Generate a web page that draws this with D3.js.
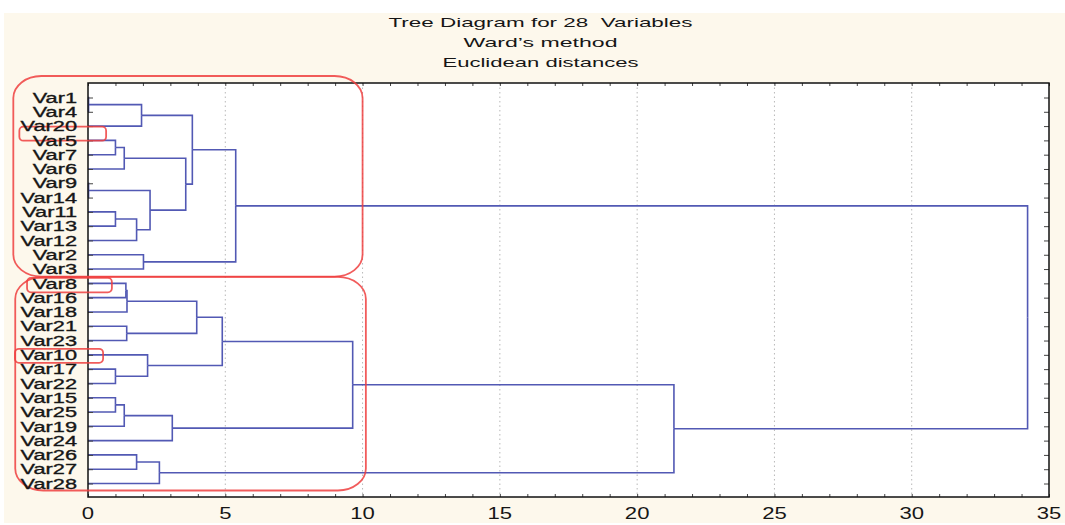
<!DOCTYPE html>
<html>
<head>
<meta charset="utf-8">
<script src="https://cdn.jsdelivr.net/npm/d3@7"></script>
<style>
  body { margin: 0; background: #fff; }
  text { font-family: "Liberation Sans", Arial, sans-serif; fill: #161616; }
</style>
</head>
<body>
<div id="chart"></div>
<script>
// chart text
var titleLines = ["Tree Diagram for 28  Variables", "Ward\u2019s method", "Euclidean distances"];
var xTicks = [0, 5, 10, 15, 20, 25, 30, 35];

// leaf order, top to bottom
var leaves = ["Var1", "Var4", "Var20", "Var5", "Var7", "Var6", "Var9", "Var14", "Var11", "Var13",
  "Var12", "Var2", "Var3", "Var8", "Var16", "Var18", "Var21", "Var23", "Var10", "Var17", "Var22",
  "Var15", "Var25", "Var19", "Var24", "Var26", "Var27", "Var28"];

// linkage steps: [left, right, linkage distance]; m<i> is the i-th step (1-based)
var merges = [
  ["Var1", "Var4", 0.02],
  ["Var9", "Var14", 0.02],
  ["Var5", "Var7", 1.0],
  ["Var11", "Var13", 1.0],
  ["Var15", "Var25", 1.0],
  ["Var17", "Var22", 1.0],
  ["m3", "Var6", 1.32],
  ["m5", "Var19", 1.32],
  ["Var8", "Var16", 1.38],
  ["m9", "Var18", 1.42],
  ["Var21", "Var23", 1.41],
  ["m4", "Var12", 1.77],
  ["Var26", "Var27", 1.77],
  ["m1", "Var20", 1.95],
  ["Var2", "Var3", 2.02],
  ["Var10", "m6", 2.17],
  ["m2", "m12", 2.26],
  ["m13", "Var28", 2.6],
  ["m8", "Var24", 3.07],
  ["m7", "m17", 3.56],
  ["m14", "m20", 3.8],
  ["m10", "m11", 3.96],
  ["m22", "m16", 4.89],
  ["m21", "m15", 5.38],
  ["m23", "m19", 9.64],
  ["m25", "m18", 21.34],
  ["m24", "m26", 34.22]
];

// red hand-drawn marks: leaf span + distance span
var boxFrom = ["Var1", "Var8", "Var20", "Var8", "Var10"];
var boxTo = ["Var3", "Var28", "Var5", "Var8", "Var10"];
var boxX0 = [-2.72, -2.65, -2.5, -2.22, -2.66];
var boxX1 = [10.0, 10.12, 0.66, 0.87, 0.55];
var boxPadTop = [21.5, 6.4, -0.6, 5.4, 6.0];
var boxPadBottom = [7.5, 7.0, 0.3, 9.0, 8.0];

var W = 1065, H = 525;
var plot = {left: 88, right: 1049, top: 83, bottom: 497};

var svg = d3.select("#chart").append("svg")
  .attr("width", W)
  .attr("height", H);

svg.append("rect")
  .attr("x", 4).attr("y", 13)
  .attr("width", W - 4).attr("height", H - 15)
  .attr("fill", "#fdf8ec");

svg.append("rect")
  .attr("x", plot.left).attr("y", plot.top)
  .attr("width", plot.right - plot.left).attr("height", plot.bottom - plot.top)
  .attr("fill", "#fff");

var x = d3.scaleLinear().domain([0, 35]).range([plot.left, plot.right]);
var y = d3.scalePoint().domain(leaves).range([97.5, 483.5]);

// grid
svg.append("g").selectAll("line")
  .data(xTicks.filter(d => d > 0 && d < 35))
  .enter().append("line")
  .attr("x1", d => x(d)).attr("x2", d => x(d))
  .attr("y1", plot.top).attr("y2", plot.bottom)
  .attr("stroke", "#b8b8b8")
  .attr("stroke-width", 1)
  .attr("stroke-dasharray", "1.5,3");

// build the tree from the linkage list
var nodes = {};
leaves.forEach(n => { nodes[n] = {name: n, h: 0}; });
merges.forEach((m, i) => {
  nodes["m" + (i + 1)] = {name: "m" + (i + 1), h: m[2], children: [nodes[m[0]], nodes[m[1]]]};
});
var root = d3.hierarchy(nodes["m" + merges.length]);
root.eachAfter(d => {
  d.pos = d.children ? d3.mean(d.children, c => c.pos) : y(d.data.name);
});

svg.append("g").selectAll("path")
  .data(root.links())
  .enter().append("path")
  .attr("d", l => `M${x(l.target.data.h)},${l.target.pos}H${x(l.source.data.h)}V${l.source.pos}`)
  .attr("fill", "none")
  .attr("stroke", "#5259b4")
  .attr("stroke-width", 1.6);

// axes (ticks only, pointing inward)
var tickG = svg.append("g");
tickG.append("g")
  .attr("transform", `translate(0,${plot.bottom})`)
  .call(d3.axisBottom(x).tickValues(d3.range(0, 36)).tickSize(-3).tickFormat(""));
tickG.append("g")
  .attr("transform", `translate(0,${plot.top})`)
  .call(d3.axisTop(x).tickValues(d3.range(0, 36)).tickSize(-3).tickFormat(""));
tickG.append("g")
  .attr("transform", `translate(${plot.left},0)`)
  .call(d3.axisLeft(y).tickSize(-5).tickFormat(""));
tickG.append("g")
  .attr("transform", `translate(${plot.right},0)`)
  .call(d3.axisRight(y).tickSize(-5).tickFormat(""));
tickG.selectAll(".domain").remove();
tickG.selectAll(".tick line").attr("stroke", "#444");

svg.append("rect")
  .attr("x", plot.left).attr("y", plot.top)
  .attr("width", plot.right - plot.left).attr("height", plot.bottom - plot.top)
  .attr("fill", "none")
  .attr("stroke", "#111")
  .attr("stroke-width", 1.5);

// red annotations
var big = [0, 1];
var boxTop = i => y(boxFrom[i]) - boxPadTop[i];
svg.append("g").selectAll("rect")
  .data(boxFrom.map((f, i) => i))
  .enter().append("rect")
  .attr("x", i => x(boxX0[i]))
  .attr("width", i => x(boxX1[i]) - x(boxX0[i]))
  .attr("y", boxTop)
  .attr("height", i => y(boxTo[i]) + boxPadBottom[i] - boxTop(i))
  .attr("rx", i => big.includes(i) ? 28 : 4)
  .attr("ry", i => big.includes(i) ? 22 : 4)
  .attr("fill", "none")
  .attr("stroke", "#ef3f3f")
  .attr("stroke-opacity", 0.85)
  .attr("stroke-width", 1.8);

// leaf labels (stretched like the source image)
svg.append("g").selectAll("text")
  .data(leaves)
  .enter().append("text")
  .attr("transform", d => `translate(77,${y(d)}) scale(1.5,1)`)
  .attr("dy", "0.36em")
  .attr("text-anchor", "end")
  .attr("stroke", "#161616")
  .attr("stroke-width", 0.35)
  .style("font-size", "14.5px")
  .text(d => d);

// x tick labels
svg.append("g").selectAll("text")
  .data(xTicks)
  .enter().append("text")
  .attr("transform", d => `translate(${x(d)},519) scale(1.38,1)`)
  .attr("text-anchor", "middle")
  .style("font-size", "16px")
  .text(d => d);

// title
var titleW = [304, 154, 196];
svg.append("g").selectAll("text")
  .data(titleLines)
  .enter().append("text")
  .attr("x", 540.5)
  .attr("y", (d, i) => 27 + i * 20)
  .attr("text-anchor", "middle")
  .attr("textLength", (d, i) => titleW[i])
  .attr("lengthAdjust", "spacingAndGlyphs")
  .style("font-size", "13.5px")
  .style("white-space", "pre")
  .text(d => d);
</script>
</body>
</html>
